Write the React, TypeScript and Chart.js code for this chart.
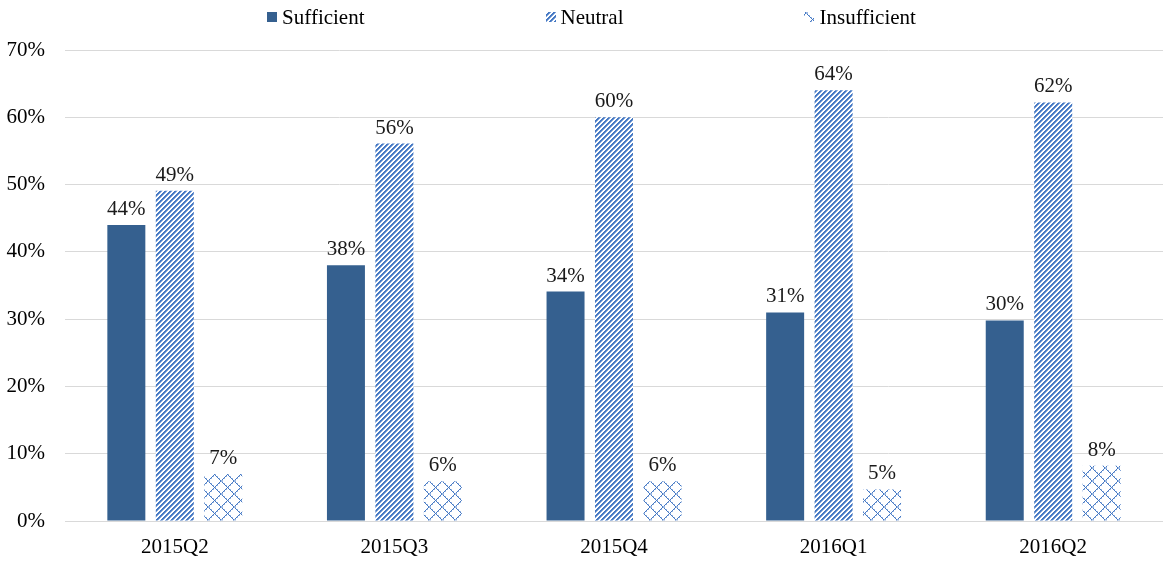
import React, { useEffect, useRef } from "react";
import { Chart, registerables } from "chart.js";

Chart.register(...registerables);

const categories = ["2015Q2", "2015Q3", "2015Q4", "2016Q1", "2016Q2"];
const seriesNames = ["Sufficient", "Neutral", "Insufficient"];
const sufficient = [44, 38, 34.1, 31, 29.8];
const neutral = [49.1, 56.1, 60, 64, 62.2];
const insufficient = [7, 5.9, 5.9, 4.7, 8.2];
const yMax = 70;
const yStep = 10;

const FONT = '"Liberation Serif", "Times New Roman", serif';
const DARK = "#35608f";
const BLUE = "#4679c4";

function stripePattern(): CanvasPattern | string {
  const n = 5;
  const c = document.createElement("canvas");
  c.width = n;
  c.height = n;
  const g = c.getContext("2d");
  if (!g) return BLUE;
  g.fillStyle = "#ffffff";
  g.fillRect(0, 0, n, n);
  for (let y = 0; y < n; y++) {
    for (let x = 0; x < n; x++) {
      const k = (x + y) % n;
      if (k < 2) {
        g.fillStyle = BLUE;
        g.fillRect(x, y, 1, 1);
      } else if (k === 2) {
        g.fillStyle = "#7fa3d8";
        g.fillRect(x, y, 1, 1);
      }
    }
  }
  return g.createPattern(c, "repeat") || BLUE;
}

function latticePattern(): CanvasPattern | string {
  const n = 13;
  const c = document.createElement("canvas");
  c.width = n;
  c.height = n;
  const g = c.getContext("2d");
  if (!g) return BLUE;
  g.fillStyle = "#ffffff";
  g.fillRect(0, 0, n, n);
  for (let i = 0; i < n; i++) {
    g.fillStyle = BLUE;
    g.fillRect(i, i, 1, 1);
    g.fillRect(n - 1 - i, i, 1, 1);
    if (i % 2 === 0) {
      g.fillStyle = "#9bb8e2";
      g.fillRect((i + 1) % n, i, 1, 1);
      g.fillRect((n - i) % n, i, 1, 1);
    }
  }
  return g.createPattern(c, "repeat") || BLUE;
}

const dataLabelPlugin = {
  id: "dataLabels",
  afterDatasetsDraw(chart: any) {
    const ctx = chart.ctx;
    ctx.save();
    ctx.font = `21px ${FONT}`;
    ctx.fillStyle = "#1a1a1a";
    ctx.textAlign = "center";
    ctx.textBaseline = "alphabetic";
    chart.data.datasets.forEach((ds: any, i: number) => {
      const meta = chart.getDatasetMeta(i);
      meta.data.forEach((el: any, j: number) => {
        const v = ds.data[j];
        ctx.fillText(`${Math.round(v)}%`, el.x, el.y - 10);
      });
    });
    ctx.restore();
  },
};

const legendPlugin = {
  id: "customLegend",
  afterDraw(chart: any) {
    const ctx = chart.ctx;
    ctx.save();
    ctx.font = `21px ${FONT}`;
    ctx.textBaseline = "middle";
    ctx.textAlign = "left";
    const box = 10;
    const textGap = 5;
    const itemGap = 181;
    const items = chart.data.datasets.map((ds: any) => ({
      label: ds.label,
      fill: ds.backgroundColor,
      w: box + textGap + ctx.measureText(ds.label).width,
    }));
    const total =
      items.reduce((s: number, it: any) => s + it.w, 0) + itemGap * (items.length - 1);
    let x = chart.width / 2 + 10 - total / 2;
    const y = 17;
    items.forEach((it: any) => {
      ctx.fillStyle = it.fill;
      ctx.fillRect(Math.round(x), y - box / 2, box, box);
      ctx.fillStyle = "#000000";
      ctx.fillText(it.label, x + box + textGap, y + 1);
      x += it.w + itemGap;
    });
    ctx.restore();
  },
};

export default function App() {
  const ref = useRef<HTMLCanvasElement | null>(null);

  useEffect(() => {
    document.body.style.margin = "0";
    const canvas = ref.current;
    if (!canvas) return;
    const chart = new Chart(canvas, {
      type: "bar",
      data: {
        labels: categories,
        datasets: [
          { label: seriesNames[0], data: sufficient, backgroundColor: DARK, borderWidth: 0 },
          { label: seriesNames[1], data: neutral, backgroundColor: stripePattern() as any, borderWidth: 0 },
          { label: seriesNames[2], data: insufficient, backgroundColor: latticePattern() as any, borderWidth: 0 },
        ],
      },
      options: {
        responsive: false,
        animation: false,
        devicePixelRatio: 1,
        layout: { padding: { top: 50, right: 0, bottom: 0, left: 0 } },
        datasets: { bar: { categoryPercentage: 0.662, barPercentage: 0.784 } },
        plugins: {
          legend: { display: false },
          tooltip: { enabled: false },
        },
        scales: {
          x: {
            afterFit: (scale: any) => {
              scale.height = 40;
            },
            grid: { display: false, drawTicks: false },
            border: { display: true, color: "#d9d9d9", width: 1 },
            ticks: { color: "#000000", font: { family: FONT, size: 21 }, padding: 14 },
          },
          y: {
            min: 0,
            max: yMax,
            afterFit: (scale: any) => {
              scale.width = 65;
            },
            grid: { color: "#d9d9d9", drawTicks: false },
            border: { display: false },
            ticks: {
              stepSize: yStep,
              color: "#000000",
              padding: 20,
              font: { family: FONT, size: 21 },
              callback: (v: any) => `${v}%`,
            },
          },
        },
      },
      plugins: [dataLabelPlugin, legendPlugin],
    });
    return () => chart.destroy();
  }, []);

  return (
    <div style={{ width: 1163, height: 561 }}>
      <canvas ref={ref} width={1163} height={561} style={{ display: "block" }} />
    </div>
  );
}
